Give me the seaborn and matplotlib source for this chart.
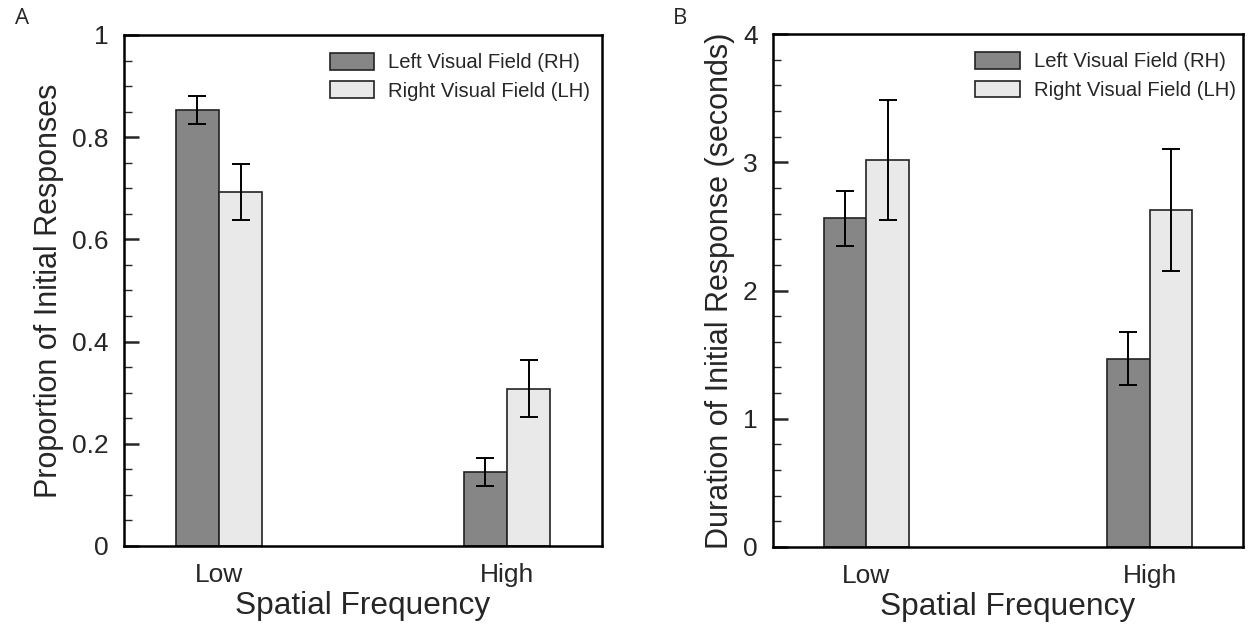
import pandas as pd
import numpy as np
import matplotlib
matplotlib.use("Agg")
import matplotlib.pyplot as plt
import seaborn as sns
from matplotlib.ticker import MultipleLocator, FormatStrFormatter

# data
freq = ["Low", "High"]
fields = ["Left Visual Field (RH)", "Right Visual Field (LH)"]

prop_left = [0.853, 0.145]
prop_right = [0.692, 0.308]
prop_left_err = [0.028, 0.028]
prop_right_err = [0.055, 0.055]

dur_left = [2.565, 1.47]
dur_right = [3.02, 2.63]
dur_left_err = [0.215, 0.21]
dur_right_err = [0.47, 0.475]

colors = ["#868686", "#e9e9e9"]

sns.set_style("white")
plt.rcParams["font.family"] = ["Liberation Sans", "DejaVu Sans"]


def make_df(left, right, left_err, right_err):
    return pd.DataFrame({
        "freq": freq * 2,
        "field": [fields[0]] * 2 + [fields[1]] * 2,
        "value": left + right,
        "err": left_err + right_err,
    })


def draw_panel(ax, df, ymax, major, minor, ylabel, ylabel_size):
    sns.barplot(data=df, x="freq", y="value", hue="field", order=freq,
                hue_order=fields, palette=colors, width=0.3, errorbar=None,
                edgecolor="#222222", linewidth=1.2, saturation=1, ax=ax)
    # error bars at each bar centre
    for patch in ax.patches:
        h = patch.get_height()
        if h == 0 or np.isnan(h):
            continue
        xc = patch.get_x() + patch.get_width() / 2
        row = df[np.isclose(df["value"], h)].iloc[0]
        ax.errorbar(xc, h, yerr=row["err"], color="black", lw=1.4,
                    capsize=6.5, capthick=1.4)
    ax.set_xlim(-0.33, 1.33)
    ax.set_ylim(0, ymax)
    ax.yaxis.set_major_locator(MultipleLocator(major))
    ax.yaxis.set_minor_locator(MultipleLocator(minor))
    ax.yaxis.set_major_formatter(FormatStrFormatter("%g"))
    ax.tick_params(axis="y", which="major", left=True, direction="in",
                   length=11, width=1.8, pad=11, labelsize=19)
    ax.tick_params(axis="y", which="minor", left=True, direction="in",
                   length=5.5, width=1.0)
    ax.tick_params(axis="x", bottom=False, length=0, pad=12, labelsize=19)
    for s in ax.spines.values():
        s.set_linewidth(1.8)
        s.set_color("black")
    ax.set_xlabel("Spatial Frequency", fontsize=22.8, labelpad=3)
    ax.set_ylabel(ylabel, fontsize=ylabel_size, labelpad=6)
    ax.legend(loc="upper left", bbox_to_anchor=(0.43, 0.965), frameon=False,
              fontsize=14.6, handlelength=2.2, handleheight=0.9,
              handletextpad=0.7, labelspacing=0.45, borderpad=0,
              borderaxespad=0)


fig = plt.figure(figsize=(12.48, 6.27), dpi=100)
ax1 = fig.add_axes([0.0994, 0.1292, 0.383, 0.815])
ax2 = fig.add_axes([0.6194, 0.1276, 0.3766, 0.818])

draw_panel(ax1, make_df(prop_left, prop_right, prop_left_err, prop_right_err),
           1, 0.2, 0.05, "Proportion of Initial Responses", 22)
draw_panel(ax2, make_df(dur_left, dur_right, dur_left_err, dur_right_err),
           4, 1, 0.2, "Duration of Initial Response (seconds)", 22)

fig.text(0.0175, 0.97, "A", fontsize=16, family="Open Sans", va="center", ha="center")
fig.text(0.545, 0.97, "B", fontsize=16, family="Open Sans", va="center", ha="center")

fig.savefig("out.png", dpi=100)
